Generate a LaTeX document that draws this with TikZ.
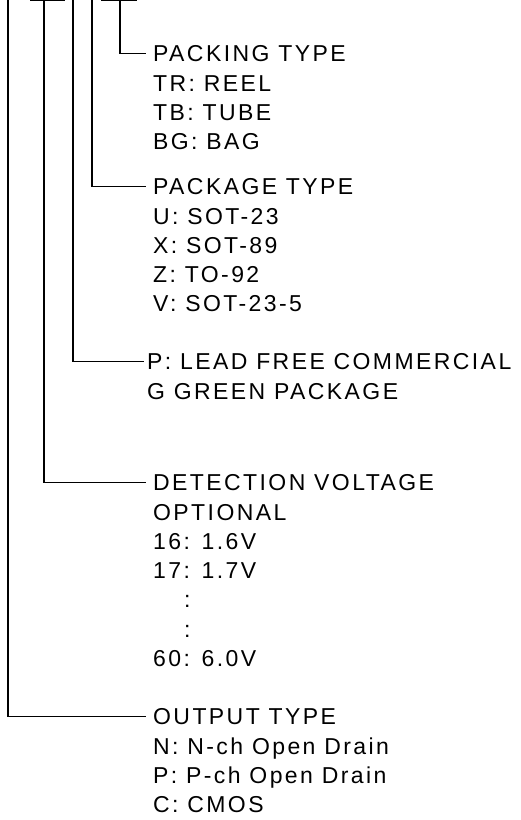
\documentclass[tikz,border=0pt]{standalone}
\usepackage{fontspec}
\newfontfamily\partfont[LetterSpace=10.5]{Liberation Sans}
\usetikzlibrary{positioning}

\begin{document}
\begin{tikzpicture}[x=1pt, y=-1pt,
    leader/.style={line width=1.8pt},
    heading/.style={anchor=base west, inner xsep=7pt, inner ysep=0pt,
      font=\partfont\fontsize{23}{29.3}\selectfont},
    optlist/.style={heading, align=left}]
  \useasboundingbox (0,0) rectangle (521,820);

  % Fields of the part number (cut off at the top edge)
  \coordinate (outfield) at (8,0);
  \coordinate (voltfield) at (44,0);
  \coordinate (leadfield) at (73,0);
  \coordinate (pkgfield) at (92,0);
  \coordinate (packfield) at (120,0);
  \draw[leader] (30,0) -- (65,0);
  \draw[leader] (101,0) -- (137,0);

  % Packing type
  \node[heading] (packing) at (146,61.5) {PACKING TYPE};
  \node[optlist, below=12.3pt of packing.base west, anchor=north west] (packinglist)
    {\rule{0pt}{17pt}TR: REEL\\TB: TUBE\\BG: BAG};

  % Package type
  \node[heading] (package) at (146,194.5) {PACKAGE TYPE};
  \node[optlist, below=12.3pt of package.base west, anchor=north west] (packagelist)
    {\rule{0pt}{17pt}U: SOT-23\\X: SOT-89\\Z: TO-92\\V: SOT-23-5};

  % Lead free / green
  \node[heading, inner xsep=3pt] (leadfree) at (144,369.5) {P: LEAD FREE COMMERCIAL};
  \node[optlist, inner xsep=3pt, below=12.3pt of leadfree.base west, anchor=north west] (green)
    {\rule{0pt}{17pt}G GREEN PACKAGE};

  % Detection voltage
  \node[heading] (detect) at (146,490.5) {DETECTION VOLTAGE};
  \node[optlist, below=12.3pt of detect.base west, anchor=north west] (detectlist)
    {\rule{0pt}{17pt}OPTIONAL\\16: 1.6V\\17: 1.7V\\\hspace*{31pt}:\\\hspace*{31pt}:\\60: 6.0V};

  % Output type
  \node[heading] (output) at (146,724.5) {OUTPUT TYPE};
  \node[optlist, below=12.3pt of output.base west, anchor=north west] (outputlist)
    {\rule{0pt}{17pt}N: N-ch Open Drain\\P: P-ch Open Drain\\C: CMOS};

  % Leaders
  \draw[leader] (packfield) |- (packing.west);
  \draw[leader] (pkgfield) |- (package.west);
  \draw[leader] (leadfield) |- (leadfree.west);
  \draw[leader] (voltfield) |- (detect.west);
  \draw[leader] (outfield) |- (output.west);
\end{tikzpicture}
\end{document}
